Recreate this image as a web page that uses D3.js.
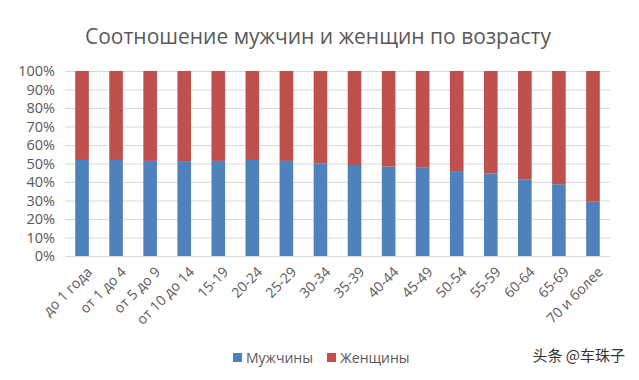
<!DOCTYPE html>
<html>
<head>
<meta charset="utf-8">
<script src="https://cdn.jsdelivr.net/npm/d3@7"></script>
<style>
  body { margin: 0; background: #fff; }
  text { font-family: "Open Sans", sans-serif; }
</style>
</head>
<body>
<svg id="chart" width="639" height="380"></svg>
<script>
// age groups
let ageGroups = ["до 1 года", "от 1 до 4", "от 5 до 9", "от 10 до 14", "15-19", "20-24", "25-29",
    "30-34", "35-39", "40-44", "45-49", "50-54", "55-59", "60-64", "65-69", "70 и более"];

// share of men, %
let men = [51.9, 51.9, 51.4, 51.3, 51.4, 51.9, 51.4, 50.1, 49.2, 48.3, 47.7, 45.9, 44.7, 41.5, 38.8, 29.4];
// share of women, %
let women = men.map(d => +(100 - d).toFixed(1));

let yTicks = [0, 10, 20, 30, 40, 50, 60, 70, 80, 90, 100];
let seriesNames = ["Мужчины", "Женщины"];
let colors = ["#4F81BD", "#C0504D"];

let svg = d3.select("#chart");

let x = d3.scaleBand()
    .domain(ageGroups)
    .range([65, 610])
    .paddingInner(0.6)
    .paddingOuter(0.3);

let y = d3.scaleLinear()
    .domain([0, 100])
    .range([256, 71]);

// title
svg.append("text")
    .attr("x", 318)
    .attr("y", 44)
    .attr("text-anchor", "middle")
    .attr("fill", "#595959")
    .style("font-size", "21px")
    .text("Соотношение мужчин и женщин по возрасту");

// gridlines
svg.append("g")
    .selectAll("line")
    .data(yTicks)
    .join("line")
    .attr("x1", 65)
    .attr("x2", 610)
    .attr("y1", d => y(d) + 0.5)
    .attr("y2", d => y(d) + 0.5)
    .attr("stroke", "#D9D9D9");

// y axis labels
let yAxis = d3.axisLeft(y)
    .tickValues(yTicks)
    .tickSize(0)
    .tickPadding(10)
    .tickFormat(d => d + "%");
let gy = svg.append("g")
    .attr("transform", "translate(65,0)")
    .call(yAxis);
gy.select(".domain").remove();
gy.selectAll("text")
    .attr("fill", "#595959")
    .style("font-size", "14.5px")
    .style("font-family", "Open Sans, sans-serif");

// stacked bars
let rows = ageGroups.map((g, i) => ({group: g, men: men[i], women: women[i]}));
let stack = d3.stack().keys(["men", "women"]);
let layers = stack(rows);

svg.append("g")
    .selectAll("g")
    .data(layers)
    .join("g")
    .attr("fill", (d, i) => colors[i])
    .selectAll("rect")
    .data(d => d)
    .join("rect")
    .attr("x", d => x(d.data.group))
    .attr("width", x.bandwidth())
    .attr("y", d => y(d[1]))
    .attr("height", d => y(d[0]) - y(d[1]));

// x labels
svg.append("g")
    .selectAll("text")
    .data(ageGroups)
    .join("text")
    .attr("transform", d => "translate(" + (x(d) + x.bandwidth() / 2 + 4) + ",266) rotate(-45)")
    .attr("text-anchor", "end")
    .attr("dy", "0.7em")
    .attr("fill", "#595959")
    .style("font-size", "14px")
    .text(d => d);

// legend
let legendX = [233, 327];
let legend = svg.append("g")
    .selectAll("g")
    .data(seriesNames)
    .join("g")
    .attr("transform", (d, i) => "translate(" + legendX[i] + ",353)");
legend.append("rect")
    .attr("width", 9)
    .attr("height", 9)
    .attr("fill", (d, i) => colors[i]);
legend.append("text")
    .attr("x", 13)
    .attr("y", 9.5)
    .attr("fill", "#595959")
    .style("font-size", "14px")
    .text(d => d);

// watermark
svg.append("text")
    .attr("x", 625)
    .attr("y", 361)
    .attr("text-anchor", "end")
    .attr("fill", "#333")
    .style("font-family", "Noto Sans CJK SC, sans-serif")
    .style("font-size", "15px")
    .text("头条 @车珠子");
</script>
</body>
</html>
